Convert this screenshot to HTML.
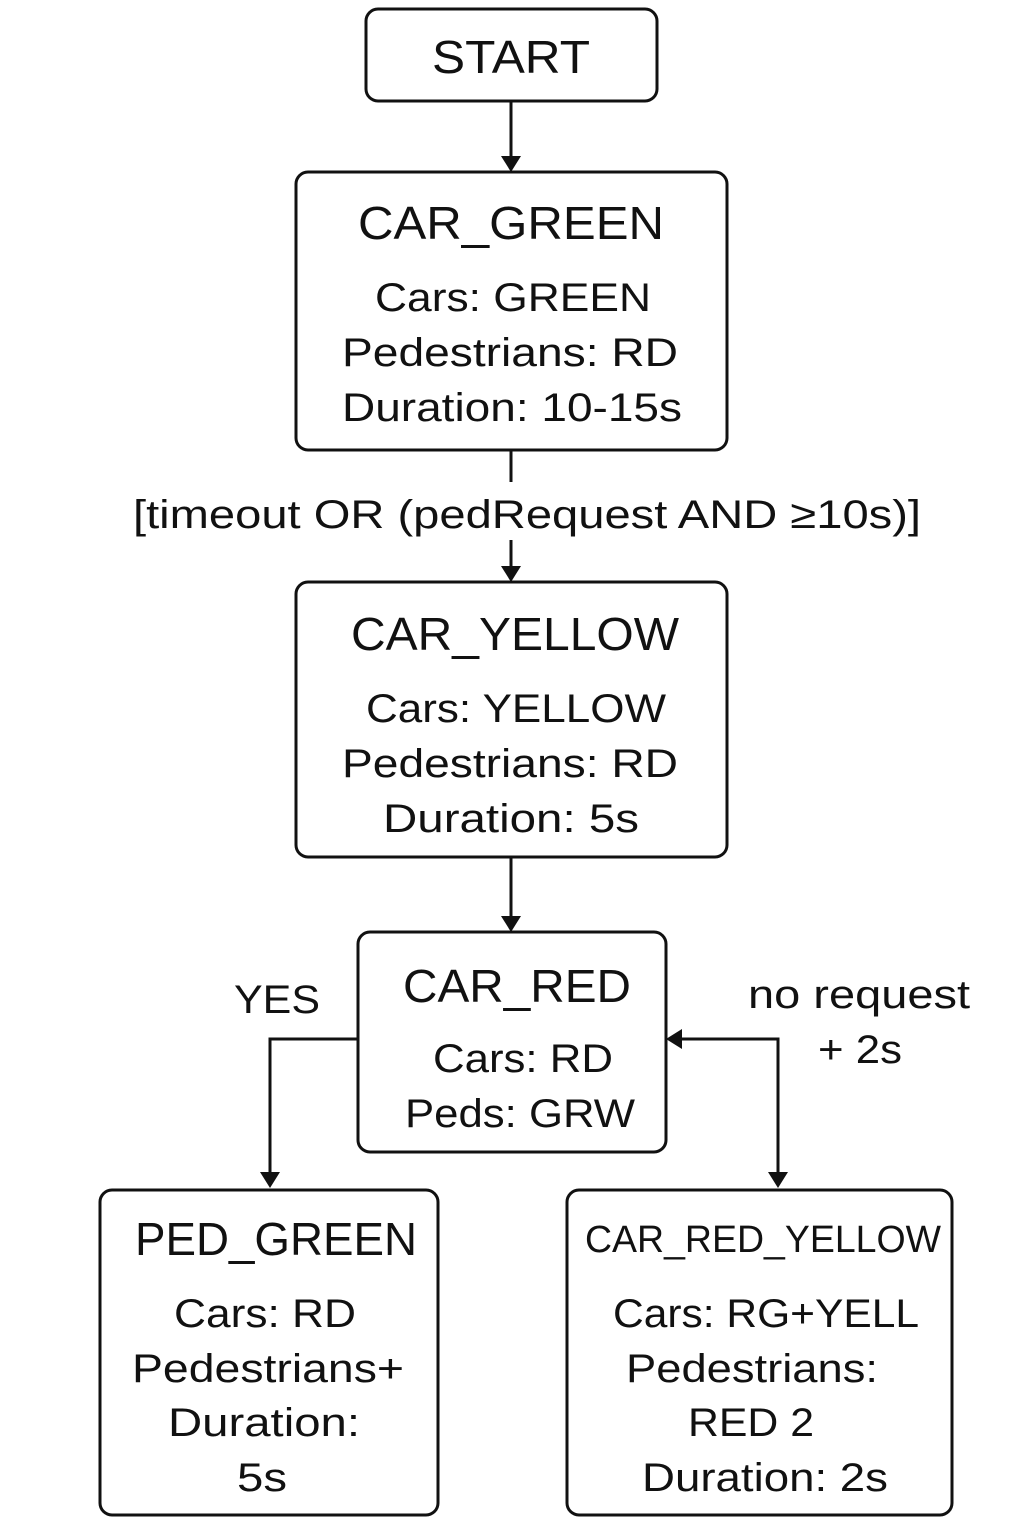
<!DOCTYPE html>
<html><head><meta charset="utf-8"><style>
html,body{margin:0;padding:0;background:#fff;}
svg{display:block;}
text{font-family:"Liberation Sans","DejaVu Sans",sans-serif;fill:#111;text-anchor:middle;}
</style></head><body>
<svg width="1024" height="1536" viewBox="0 0 1024 1536" xmlns="http://www.w3.org/2000/svg">
<defs>
<marker id="ah" markerWidth="10" markerHeight="10" refX="9" refY="5" orient="auto" markerUnits="userSpaceOnUse" viewBox="0 0 10 10">
</marker>
</defs>
<g fill="none" stroke="#111" stroke-width="3">
<rect x="366" y="9" width="291" height="92" rx="12"/>
<rect x="296" y="172" width="431" height="278" rx="12"/>
<rect x="296" y="582" width="431" height="275" rx="12"/>
<rect x="358" y="932" width="308" height="220" rx="12"/>
<rect x="100" y="1190" width="338" height="325" rx="12"/>
<rect x="567" y="1190" width="385" height="325" rx="12"/>
<line x1="511" y1="101" x2="511" y2="160"/>
<line x1="511" y1="450" x2="511" y2="482"/>
<line x1="511" y1="540" x2="511" y2="570"/>
<line x1="511" y1="857" x2="511" y2="920"/>
<polyline points="358,1039 270,1039 270,1176"/>
<polyline points="678,1039 778,1039 778,1176"/>
</g>
<g fill="#111">
<polygon points="501,156 521,156 511,172"/>
<polygon points="501,566 521,566 511,582"/>
<polygon points="501,916 521,916 511,932"/>
<polygon points="260,1172 280,1172 270,1188"/>
<polygon points="768,1172 788,1172 778,1188"/>
<polygon points="682,1029 682,1049 666,1039"/>
</g>
<text x="511" y="73" font-size="46" textLength="158" lengthAdjust="spacingAndGlyphs">START</text>

<text x="511" y="239" font-size="46" textLength="306" lengthAdjust="spacingAndGlyphs">CAR_GREEN</text>
<text x="513" y="311" font-size="40" textLength="276" lengthAdjust="spacingAndGlyphs">Cars: GREEN</text>
<text x="510" y="366" font-size="40" textLength="336" lengthAdjust="spacingAndGlyphs">Pedestrians: RD</text>
<text x="512" y="421" font-size="40" textLength="340" lengthAdjust="spacingAndGlyphs">Duration: 10-15s</text>

<text x="527" y="528" font-size="40" textLength="788" lengthAdjust="spacingAndGlyphs">[timeout OR (pedRequest AND ≥10s)]</text>

<text x="515" y="650" font-size="46" textLength="328" lengthAdjust="spacingAndGlyphs">CAR_YELLOW</text>
<text x="516" y="722" font-size="40" textLength="300" lengthAdjust="spacingAndGlyphs">Cars: YELLOW</text>
<text x="510" y="777" font-size="40" textLength="336" lengthAdjust="spacingAndGlyphs">Pedestrians: RD</text>
<text x="511" y="832" font-size="40" textLength="256" lengthAdjust="spacingAndGlyphs">Duration: 5s</text>

<text x="517" y="1002" font-size="46" textLength="228" lengthAdjust="spacingAndGlyphs">CAR_RED</text>
<text x="523" y="1072" font-size="40" textLength="180" lengthAdjust="spacingAndGlyphs">Cars: RD</text>
<text x="520" y="1127" font-size="40" textLength="230" lengthAdjust="spacingAndGlyphs">Peds: GRW</text>

<text x="277" y="1013" font-size="40" textLength="86" lengthAdjust="spacingAndGlyphs">YES</text>
<text x="859" y="1008" font-size="40" textLength="222" lengthAdjust="spacingAndGlyphs">no request</text>
<text x="860" y="1063" font-size="40" textLength="84" lengthAdjust="spacingAndGlyphs">+ 2s</text>

<text x="276" y="1255" font-size="46" textLength="282" lengthAdjust="spacingAndGlyphs">PED_GREEN</text>
<text x="265" y="1327" font-size="40" textLength="182" lengthAdjust="spacingAndGlyphs">Cars: RD</text>
<text x="268" y="1382" font-size="40" textLength="272" lengthAdjust="spacingAndGlyphs">Pedestrians+</text>
<text x="264" y="1436" font-size="40" textLength="192" lengthAdjust="spacingAndGlyphs">Duration:</text>
<text x="262" y="1491" font-size="40" textLength="50" lengthAdjust="spacingAndGlyphs">5s</text>

<text x="763" y="1252" font-size="38" textLength="356" lengthAdjust="spacingAndGlyphs">CAR_RED_YELLOW</text>
<text x="766" y="1327" font-size="40" textLength="306" lengthAdjust="spacingAndGlyphs">Cars: RG+YELL</text>
<text x="752" y="1382" font-size="40" textLength="252" lengthAdjust="spacingAndGlyphs">Pedestrians:</text>
<text x="751" y="1436" font-size="40" textLength="126" lengthAdjust="spacingAndGlyphs">RED 2</text>
<text x="765" y="1491" font-size="40" textLength="246" lengthAdjust="spacingAndGlyphs">Duration: 2s</text>
</svg>
</body></html>
